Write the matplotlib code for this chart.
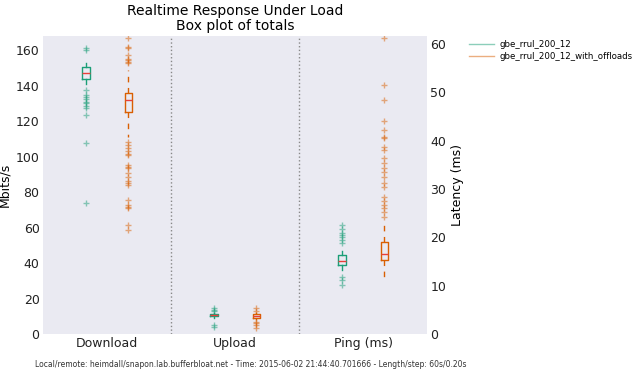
import matplotlib
matplotlib.use('Agg')
import matplotlib.pyplot as plt
from matplotlib.lines import Line2D

# Series and groups
series = ['gbe_rrul_200_12', 'gbe_rrul_200_12_with_offloads']
colors = ['#1b9e77', '#d95f02']
groups = ['Download', 'Upload', 'Ping (ms)']

# Box stats per group: [series0, series1]  (q1, median, q3, whislo, whishi)
dl_q1 = [143.7, 124.9]
dl_med = [147.0, 131.7]
dl_q3 = [150.3, 135.8]
dl_lo = [141.2, 111.0]
dl_hi = [153.0, 149.0]
dl_fliers = [
    [161.5, 160.0, 137.5, 135.0, 133.5, 132.5, 131.0, 130.0, 128.5, 127.3, 123.4, 107.8, 73.8],
    [166.6, 161.9, 161.0, 157.2, 155.3, 154.4, 153.4, 152.5,
     108.4, 106.5, 105.0, 103.0, 101.5, 100.8, 95.2, 94.0, 93.5,
     90.7, 88.5, 86.5, 85.0, 84.0, 75.5, 73.0, 71.5, 71.0, 61.4, 58.6],
]

ul_q1 = [10.0, 9.3]
ul_med = [10.6, 10.4]
ul_q3 = [11.2, 11.3]
ul_lo = [9.2, 8.0]
ul_hi = [12.0, 12.5]
ul_fliers = [
    [14.6, 13.5, 12.8, 5.0, 3.8],
    [14.5, 13.2, 7.0, 6.0, 4.8, 3.5],
]

ping_q1 = [14.2, 15.3]
ping_med = [15.1, 16.6]
ping_q3 = [16.3, 19.0]
ping_lo = [13.2, 11.3]
ping_hi = [17.2, 23.6]
ping_fliers = [
    [22.5, 21.8, 21.0, 20.5, 20.0, 19.5, 18.8, 11.7, 11.2, 10.1],
    [61.2, 51.5, 48.5, 44.1, 42.2, 40.8, 40.5, 38.8, 38.1, 36.4, 35.4,
     34.3, 33.5, 32.5, 31.2, 30.5, 28.4, 27.5, 26.8, 26.0, 25.2, 24.3],
]

footer = ('Local/remote: heimdall/snapon.lab.bufferbloat.net - Time: 2015-06-02 '
          '21:44:40.701666 - Length/step: 60s/0.20s')


def make_stats(q1, med, q3, lo, hi, fl):
    return [dict(q1=q1[i], med=med[i], q3=q3[i], whislo=lo[i], whishi=hi[i],
                 fliers=fl[i]) for i in range(2)]


fig = plt.figure(figsize=(6.4, 3.78), dpi=100)
ax = fig.add_axes([0.0672, 0.1164, 0.6, 0.7884])
ax2 = ax.twinx()
for a in (ax, ax2):
    a.set_facecolor('#eaeaf2')
    for s in a.spines.values():
        s.set_visible(False)
    a.tick_params(length=0, labelsize=9, pad=2.5, labelcolor='#222222')
ax2.patch.set_visible(False)

plots = [
    (ax, make_stats(dl_q1, dl_med, dl_q3, dl_lo, dl_hi, dl_fliers), 1),
    (ax, make_stats(ul_q1, ul_med, ul_q3, ul_lo, ul_hi, ul_fliers), 4),
    (ax2, make_stats(ping_q1, ping_med, ping_q3, ping_lo, ping_hi, ping_fliers), 7),
]

for target, stats, start in plots:
    for i, st in enumerate(stats):
        c = colors[i]
        ls = '-' if i == 0 else (0, (4, 4))
        target.bxp([st], positions=[start + i], widths=0.18, showcaps=False,
                   boxprops=dict(color=c, linewidth=1),
                   whiskerprops=dict(color=c, linewidth=1, linestyle=ls),
                   medianprops=dict(color='#e8403a', linewidth=1),
                   flierprops=dict(marker='+', markeredgecolor=c, alpha=0.5,
                                   markersize=5, linestyle='none'))

for xd in (3, 6):
    ax.axvline(xd, color='#888888', linestyle=':', linewidth=1)

ax.set_xlim(0, 9)
ax.set_xticks([1.5, 4.5, 7.5])
ax.set_xticklabels(groups)
ax.set_ylim(0, 168)
ax.set_yticks(range(0, 161, 20))
ax2.set_ylim(0, 61.7)
ax2.set_yticks(range(0, 61, 10))
ax.set_ylabel('Mbits/s', fontsize=9, labelpad=3)
ax2.set_ylabel('Latency (ms)', fontsize=9, labelpad=3)
ax.set_title('Realtime Response Under Load\nBox plot of totals', fontsize=10,
             linespacing=1.1, pad=4)

handles = [Line2D([], [], color=c, alpha=0.5, linewidth=1) for c in colors]
fig.legend(handles, series, loc='upper left', bbox_to_anchor=(0.72, 0.915),
           frameon=False, fontsize=6.2, handlelength=3, handletextpad=0.6,
           labelspacing=0.35)

fig.text(0.055, 0.028, footer, fontsize=5.5, color='#333333')

fig.savefig('out.png', dpi=100)
